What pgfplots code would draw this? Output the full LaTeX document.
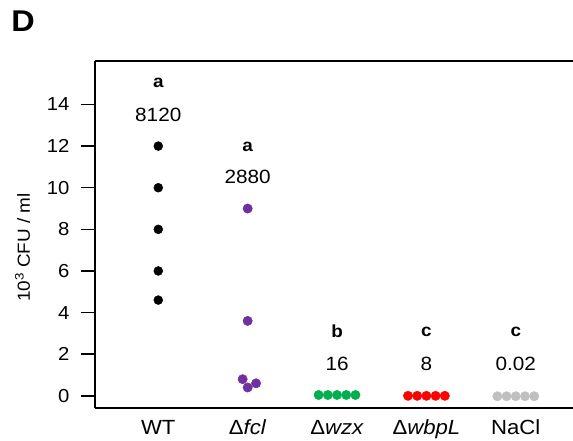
\documentclass[border=0pt]{standalone}
\usepackage{fontspec}
\setmainfont[FakeStretch=1.08]{Liberation Sans}
\usepackage{pgfplots}
\pgfplotsset{compat=1.18}
\definecolor{cpurple}{HTML}{7030A0}
\definecolor{cgreen}{HTML}{00B050}
\definecolor{cred}{HTML}{FF0000}
\definecolor{cgrey}{HTML}{C0C0C0}
\newcommand{\fs}[1]{\fontsize{#1}{#1}\selectfont}
\begin{document}
\begin{tikzpicture}
\begin{axis}[
  scale only axis, width=478pt, height=347.3pt,
  xmin=0.292, xmax=5.64, ymin=-0.6, ymax=16.09,
  axis x line=bottom, axis y line=left,
  axis line style={-, line width=1.7pt},
  xtick={1,2,3,4,5},
  xticklabels={WT, Δ\textit{fcl}, Δ\textit{wzx}, Δ\textit{wbpL}, NaCl},
  x tick style={draw=none},
  ytick={0,2,4,6,8,10,12,14},
  y tick style={line width=1.4pt, black},
  major tick length=14pt,
  tick align=outside,
  /pgf/number format/assume math mode=true,
  y tick label style={font=\fs{18.8}, xshift=-8pt},
  x tick label style={font=\fs{20.5}, inner sep=0pt, text depth=0pt, yshift=2.5pt},
  clip=false,
  ylabel={10\textsuperscript{3} CFU / ml},
  ylabel style={at={(axis description cs:-0.136,0.463)}, anchor=base, rotate=0, font=\fs{17.5}},
]
\addplot[only marks, mark=*, mark size=4.5pt, black] coordinates {(1,12) (1,10) (1,8) (1,6) (1,4.6)};
\addplot[only marks, mark=*, mark size=4.7pt, cpurple] coordinates {(2,9) (2,3.6) (1.944,0.8) (2,0.4) (2.094,0.6)};
\addplot[only marks, mark=*, mark size=4.7pt, cgreen] coordinates {(2.794,0.04) (2.897,0.04) (3,0.04) (3.103,0.04) (3.206,0.04)};
\addplot[only marks, mark=*, mark size=4.7pt, cred] coordinates {(3.794,0) (3.897,0) (4,0) (4.103,0) (4.206,0)};
\addplot[only marks, mark=*, mark size=4.7pt, cgrey] coordinates {(4.794,-0.02) (4.897,-0.02) (5,-0.02) (5.103,-0.02) (5.206,-0.02)};
\draw[line width=1.7pt] (rel axis cs:0,1) -- (rel axis cs:1,1);
\node[font=\bfseries\fs{17.5}] at (axis cs:1,15.02) {a};
\node[font=\fs{19.2}] at (axis cs:1,13.5) {8120};
\node[font=\bfseries\fs{17.5}] at (axis cs:2,11.97) {a};
\node[font=\fs{19.2}] at (axis cs:2,10.5) {2880};
\node[font=\bfseries\fs{17.5}] at (axis cs:3,3.08) {b};
\node[font=\fs{19.2}] at (axis cs:3,1.52) {16};
\node[font=\bfseries\fs{17.5}] at (axis cs:4,3.08) {c};
\node[font=\fs{19.2}] at (axis cs:4,1.52) {8};
\node[font=\bfseries\fs{17.5}] at (axis cs:5,3.08) {c};
\node[font=\fs{19.2}] at (axis cs:5,1.52) {0.02};
\end{axis}
\node[font=\bfseries\fs{30}] at (-72pt,387pt) {D};
\pgfresetboundingbox
\useasboundingbox (-95pt,-32.7pt) rectangle (478pt,408.3pt);
\end{tikzpicture}
\end{document}
